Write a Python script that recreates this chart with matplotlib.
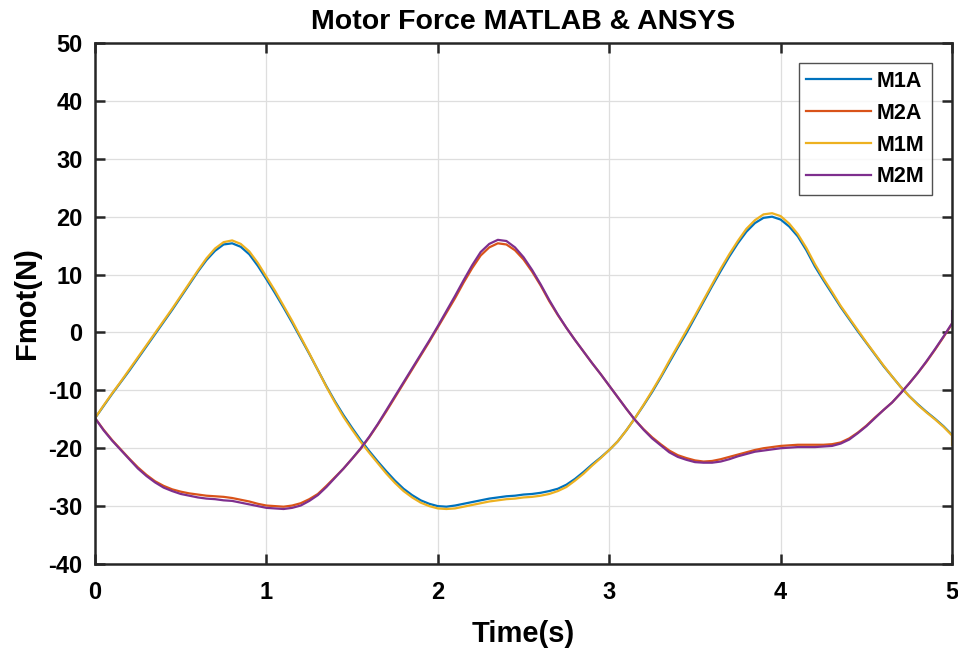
import numpy as np
import matplotlib
matplotlib.use("Agg")
import matplotlib.pyplot as plt

# time grid, step 0.05 s
t = np.round(np.arange(0, 5.0001, 0.05), 2)

M1A = [-14.8, -12.7, -10.6, -8.6, -6.6, -4.5, -2.4, -0.3, 1.8, 3.9,
       6.1, 8.3, 10.5, 12.5, 14.1, 15.2, 15.4, 14.8, 13.5, 11.5,
       9.2, 6.8, 4.3, 1.7, -1.0, -3.7, -6.5, -9.3, -11.9, -14.3,
       -16.5, -18.6, -20.5, -22.3, -24.0, -25.6, -27.0, -28.1, -29.0, -29.6,
       -30.0, -30.1, -29.9, -29.6, -29.3, -29.0, -28.7, -28.5, -28.3, -28.2,
       -28.0, -27.9, -27.7, -27.4, -27.0, -26.3, -25.3, -24.1, -22.8, -21.6,
       -20.3, -18.8, -16.9, -14.8, -12.6, -10.3, -7.8, -5.2, -2.6, -0.1,
       2.6, 5.3, 8.0, 10.6, 13.1, 15.4, 17.4, 18.9, 19.8, 20.0,
       19.5, 18.3, 16.6, 14.2, 11.4, 9.0, 6.7, 4.4, 2.3, 0.2,
       -1.8, -3.8, -5.8, -7.6, -9.4, -11.0, -12.4, -13.7, -14.9, -16.2,
       -17.7]

M1M = [-14.8, -12.6, -10.5, -8.5, -6.4, -4.3, -2.2, -0.1, 2.0, 4.1,
       6.3, 8.5, 10.7, 12.8, 14.5, 15.6, 15.9, 15.3, 14.0, 12.0,
       9.6, 7.2, 4.6, 2.0, -0.8, -3.6, -6.5, -9.4, -12.1, -14.6,
       -16.8, -18.9, -20.8, -22.6, -24.4, -26.0, -27.4, -28.5, -29.4, -30.0,
       -30.4, -30.5, -30.4, -30.1, -29.8, -29.5, -29.2, -29.0, -28.8, -28.7,
       -28.5, -28.4, -28.2, -27.9, -27.4, -26.7, -25.6, -24.4, -23.0, -21.7,
       -20.3, -18.8, -16.9, -14.8, -12.5, -10.1, -7.6, -4.9, -2.3, 0.3,
       2.9, 5.6, 8.3, 11.0, 13.5, 15.8, 17.9, 19.4, 20.4, 20.6,
       20.1, 18.8, 17.0, 14.6, 11.8, 9.3, 7.0, 4.6, 2.5, 0.4,
       -1.7, -3.7, -5.7, -7.6, -9.4, -11.0, -12.5, -13.8, -15.0, -16.3,
       -17.8]

M2A = [-14.8, -16.8, -18.6, -20.2, -21.8, -23.3, -24.6, -25.7, -26.5, -27.1,
       -27.5, -27.8, -28.0, -28.2, -28.3, -28.4, -28.6, -28.9, -29.2, -29.6,
       -29.9, -30.0, -30.1, -29.9, -29.5, -28.8, -27.9, -26.5, -25.0, -23.5,
       -21.8, -20.1, -18.1, -15.9, -13.6, -11.2, -8.8, -6.4, -4.0, -1.6,
       0.9, 3.4, 5.9, 8.6, 11.1, 13.3, 14.7, 15.4, 15.2, 14.2,
       12.6, 10.5, 8.1, 5.4, 3.0, 0.8, -1.3, -3.3, -5.3, -7.2,
       -9.2, -11.2, -13.2, -15.1, -16.7, -18.1, -19.3, -20.4, -21.2, -21.7,
       -22.1, -22.3, -22.2, -21.9, -21.5, -21.1, -20.7, -20.3, -20.0, -19.8,
       -19.6, -19.5, -19.4, -19.4, -19.4, -19.4, -19.3, -19.0, -18.3, -17.3,
       -16.1, -14.7, -13.4, -12.1, -10.5, -8.8, -7.0, -5.1, -3.0, -0.8,
       1.5]

M2M = [-14.8, -16.9, -18.7, -20.3, -21.9, -23.5, -24.8, -25.9, -26.8, -27.4,
       -27.9, -28.2, -28.5, -28.7, -28.8, -29.0, -29.1, -29.4, -29.7, -30.0,
       -30.3, -30.4, -30.5, -30.3, -29.9, -29.1, -28.1, -26.7, -25.1, -23.5,
       -21.8, -20.0, -18.0, -15.8, -13.4, -11.0, -8.6, -6.2, -3.8, -1.4,
       1.1, 3.7, 6.3, 9.0, 11.6, 13.9, 15.3, 16.0, 15.8, 14.7,
       13.0, 10.8, 8.3, 5.6, 3.1, 0.8, -1.3, -3.3, -5.3, -7.2,
       -9.2, -11.2, -13.2, -15.1, -16.8, -18.3, -19.5, -20.7, -21.5, -22.0,
       -22.4, -22.5, -22.5, -22.3, -21.9, -21.4, -21.0, -20.6, -20.4, -20.2,
       -20.0, -19.9, -19.8, -19.8, -19.8, -19.7, -19.6, -19.2, -18.5, -17.4,
       -16.2, -14.8, -13.4, -12.1, -10.5, -8.8, -7.0, -5.0, -2.9, -0.7,
       1.6]

# short spikes at the ends of the MATLAB curves
M2M_start = -10.1
M2M_end = 3.7
M1M_end = -19.4

labels = ["M1A", "M2A", "M1M", "M2M"]
colors = ["#0072BD", "#D95319", "#EDB120", "#7E2F8E"]

plt.rcParams['font.family'] = ['Liberation Sans', 'DejaVu Sans']
plt.rcParams['font.weight'] = 'bold'
plt.rcParams['axes.unicode_minus'] = False

fig = plt.figure(figsize=(9.58, 6.5), dpi=100)
ax = fig.add_axes([0.0992, 0.1323, 0.8946, 0.8015])

ax.plot(t, M1A, color=colors[0], lw=1.6, label=labels[0])
ax.plot(t, M2A, color=colors[1], lw=1.6, label=labels[1])
ax.plot(np.r_[t, 5.0], np.r_[M1M, M1M_end], color=colors[2], lw=1.6, label=labels[2])
ax.plot(np.r_[0.0, t, 5.0], np.r_[M2M_start, M2M, M2M_end], color=colors[3], lw=1.6, label=labels[3])

ax.set_xlim(0, 5)
ax.set_ylim(-40, 50)
ax.set_xticks(np.arange(0, 6, 1))
ax.set_yticks(np.arange(-40, 60, 10))
ax.grid(True, color='#dedede', lw=0.9)
ax.set_axisbelow(True)

for s in ax.spines.values():
    s.set_linewidth(1.8)
    s.set_color('#262626')
ax.tick_params(direction='in', length=7, width=1.8, color='#262626',
               top=True, right=True, labelsize=17)
ax.tick_params(axis='x', pad=12)
ax.tick_params(axis='y', pad=9)
for lab in ax.get_xticklabels() + ax.get_yticklabels():
    lab.set_fontweight('bold')

ax.set_xlabel("Time(s)", fontsize=21, fontweight='bold', labelpad=12)
ax.set_ylabel("Fmot(N)", fontsize=21, fontweight='bold', labelpad=5)
ax.set_title("Motor Force MATLAB & ANSYS", fontsize=20.5, fontweight='bold', pad=10)

leg = ax.legend(loc='upper right', fontsize=15.5, frameon=True, fancybox=False,
                edgecolor='#262626', handlelength=3.0, handletextpad=0.25,
                borderaxespad=0.95, labelspacing=0.5, borderpad=0.35)
leg.get_frame().set_linewidth(1.0)
for txt in leg.get_texts():
    txt.set_fontweight('bold')

fig.savefig("out.png", dpi=100)
